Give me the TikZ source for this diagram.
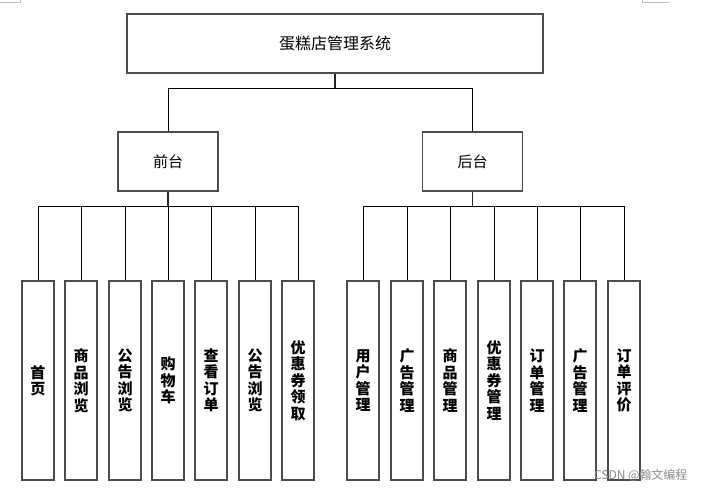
\documentclass[tikz,border=0pt]{standalone}
\usepackage{fontspec}
\newfontfamily\cjk{Noto Sans CJK SC}
\begin{document}
\begin{tikzpicture}[x=1pt,y=-1pt,
  box/.style={draw=black!70,line width=1.2pt,rectangle,inner sep=0pt,fill=white},
  topbox/.style={box,minimum width=416pt,minimum height=59pt,font=\cjk\fontsize{16}{18}\selectfont},
  midbox/.style={box,minimum width=100pt,minimum height=59pt,font=\cjk\fontsize{15}{17}\selectfont},
  leafbox/.style={box,minimum width=32pt,minimum height=199pt,align=center,font=\cjk\bfseries\fontsize{15}{16.5}\selectfont},
  conn/.style={draw=black,line width=0.8pt},
  trunk/.style={draw=black!85,line width=1.6pt},
  cornermark/.style={draw=black!25,line width=0.6pt}]
\useasboundingbox (0,0) rectangle (704,489);
\fill[white] (0,0) rectangle (704,489);
% page corner marks
\draw[cornermark] (0,2) -- (20,2) -- (20,0);
\draw[cornermark] (642,0) -- (642,2) -- (669,2);
% nodes
\node[topbox] (top) at (335,43.5) {蛋糕店管理系统};
\node[midbox] (front) at (168,161.5) {前台};
\node[midbox] (back) at (472.5,161.5) {后台};
\coordinate (busA) at (335,88);
\coordinate (busF) at (168,206);
\coordinate (busB) at (472.5,206);
\node[leafbox] (f1) at (38,380.5) {首\\页};
\node[leafbox] (f2) at (81,380.5) {商\\品\\浏\\览};
\node[leafbox] (f3) at (125,380.5) {公\\告\\浏\\览};
\node[leafbox] (f4) at (168,380.5) {购\\物\\车};
\node[leafbox] (f5) at (211,380.5) {查\\看\\订\\单};
\node[leafbox] (f6) at (255,380.5) {公\\告\\浏\\览};
\node[leafbox] (f7) at (298,380.5) {优\\惠\\券\\领\\取};
\node[leafbox] (b1) at (363,380.5) {用\\户\\管\\理};
\node[leafbox] (b2) at (407,380.5) {广\\告\\管\\理};
\node[leafbox] (b3) at (450,380.5) {商\\品\\管\\理};
\node[leafbox] (b4) at (494,380.5) {优\\惠\\券\\管\\理};
\node[leafbox] (b5) at (537,380.5) {订\\单\\管\\理};
\node[leafbox] (b6) at (580,380.5) {广\\告\\管\\理};
\node[leafbox] (b7) at (624,380.5) {订\\单\\评\\价};
% connectors
\draw[trunk] (top.south) -- (busA);
\draw[conn] (busA) -| (front.north);
\draw[conn] (busA) -| (back.north);
\draw[trunk] (front.south) -- (busF);
\draw[trunk] (back.south) -- (busB);
\foreach \n in {f1,f2,f3,f4,f5,f6,f7} \draw[conn] (busF) -| (\n.north);
\foreach \n in {b1,b2,b3,b4,b5,b6,b7} \draw[conn] (busB) -| (\n.north);
% watermark
\node[text=black!45,font=\cjk\fontsize{12}{14}\selectfont,anchor=east] (wm) at (691,475) {CSDN @翰文编程};
\end{tikzpicture}
\end{document}
